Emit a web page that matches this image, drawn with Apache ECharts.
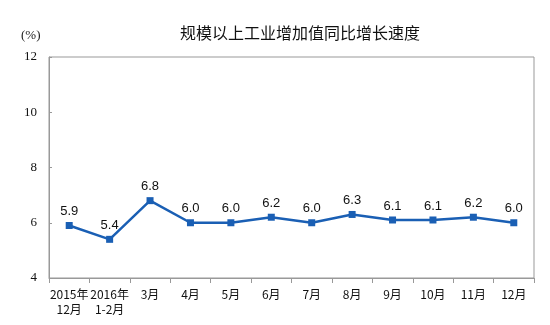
<!DOCTYPE html>
<html><head><meta charset="utf-8">
<script src="https://cdn.jsdelivr.net/npm/echarts@6/dist/echarts.min.js"></script>
<style>html,body{margin:0;padding:0;background:#fff}#c{width:550px;height:325px}</style>
</head><body><div id="c"></div>
<script>
var titleText = '规模以上工业增加值同比增长速度';
var unitText = '(%)';
var categories = ['2015年\n12月', '2016年\n1-2月', '3月', '4月', '5月', '6月', '7月', '8月', '9月', '10月', '11月', '12月'];
var values = [5.9, 5.4, 6.8, 6.0, 6.0, 6.2, 6.0, 6.3, 6.1, 6.1, 6.2, 6.0];
var yMin = 4, yMax = 12, yStep = 2;

var chart = echarts.init(document.getElementById('c'), null, {renderer: 'canvas'});
chart.setOption({
  animation: false,
  backgroundColor: '#fff',
  graphic: [{
    type: 'text', x: 300, y: 33,
    style: {text: titleText, fontSize: 16, fontFamily: 'Noto Sans CJK SC', fill: '#111', align: 'center', verticalAlign: 'middle'}
  }, {
    type: 'text', x: 21, y: 36,
    style: {text: unitText, fontSize: 13, fontFamily: 'Liberation Serif', fill: '#222', verticalAlign: 'middle'}
  }],
  grid: {left: 49, right: 16, top: 57, bottom: 47, show: true, borderColor: '#999', borderWidth: 1, backgroundColor: 'transparent'},
  xAxis: {
    type: 'category', data: categories, boundaryGap: true,
    axisLine: {lineStyle: {color: '#999'}},
    axisTick: {show: true, inside: false, length: 5, alignWithLabel: false, lineStyle: {color: '#999'}},
    axisLabel: {interval: 0, margin: 9, fontSize: 12, lineHeight: 15, color: '#111', fontFamily: 'Noto Sans CJK SC'}
  },
  yAxis: {
    type: 'value', min: yMin, max: yMax, interval: yStep,
    axisLine: {show: true, lineStyle: {color: '#999'}},
    axisTick: {show: true, inside: true, length: 3, lineStyle: {color: '#999'}},
    splitLine: {show: false},
    axisLabel: {margin: 12, fontSize: 13, color: '#111', fontFamily: 'Liberation Serif'}
  },
  series: [{
    type: 'line', data: values,
    symbol: 'rect', symbolSize: 7,
    lineStyle: {color: '#1a5fb4', width: 2.5},
    itemStyle: {color: '#1a5fb4'},
    label: {show: true, position: 'top', distance: 4, fontSize: 13, color: '#111', fontFamily: 'Liberation Sans',
      formatter: function(p){ return p.value.toFixed(1); }}
  }]
});
</script></body></html>
